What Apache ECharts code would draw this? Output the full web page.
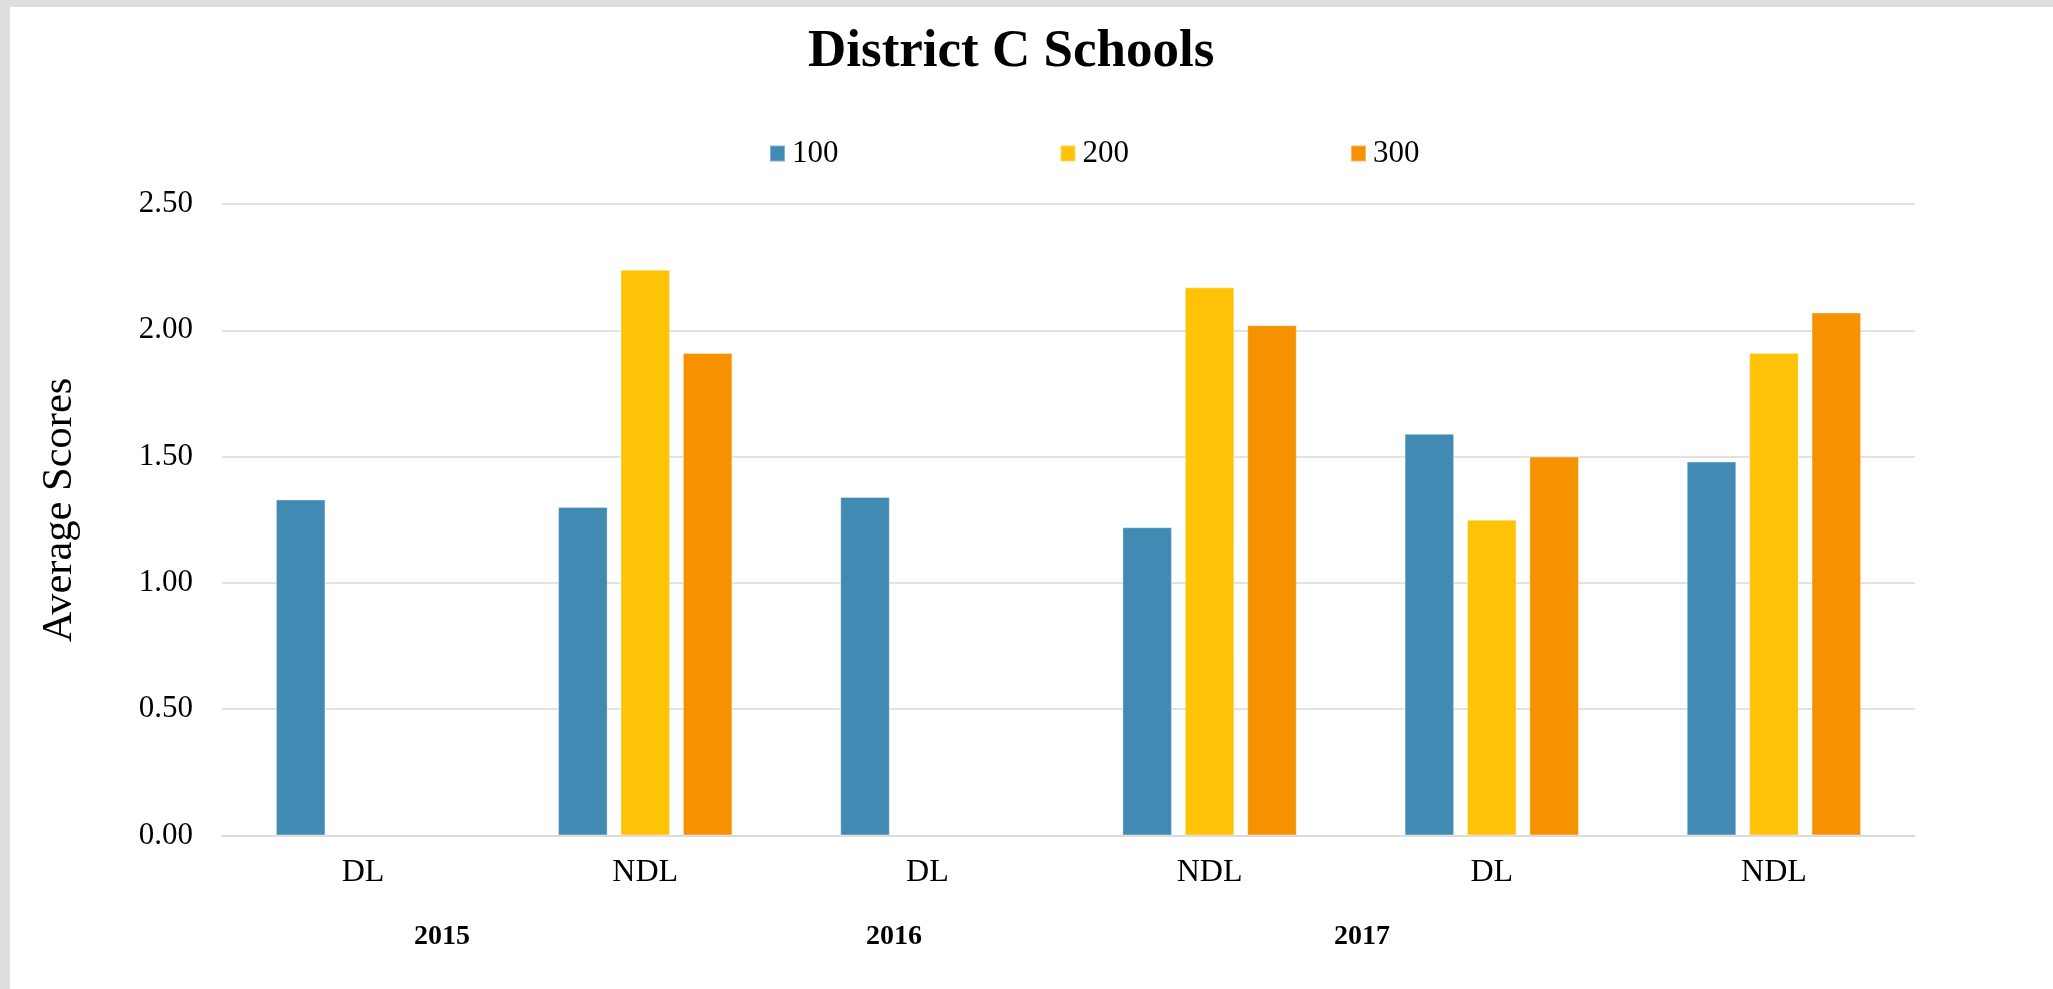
<!DOCTYPE html>
<html>
<head>
<meta charset="utf-8">
<script src="https://cdn.jsdelivr.net/npm/echarts@6/dist/echarts.min.js"></script>
<style>
  html, body { margin: 0; padding: 0; background: #ffffff; }
  #chart { width: 2053px; height: 989px; }
</style>
</head>
<body>
<div id="chart"></div>
<script>
// ---- data ----
const categories = ['DL', 'NDL', 'DL', 'NDL', 'DL', 'NDL'];
const years = ['2015', '2016', '2017'];
const seriesNames = ['100', '200', '300'];
const values100 = [1.33, 1.30, 1.34, 1.22, 1.59, 1.48];
const values200 = [null, 2.24, null, 2.17, 1.25, 1.91];
const values300 = [null, 1.91, null, 2.02, 1.50, 2.07];
const yTicks = { min: 0, max: 2.5, interval: 0.5 };
const yAxisTitle = 'Average Scores';

// ---- styling ----
const FONT = '"Liberation Serif", "Times New Roman", serif';
const colors = ['#418AB3', '#FEC306', '#F69200'];
const gridColor = '#d9d9d9';
const yearX = [442, 894, 1362];

const chart = echarts.init(document.getElementById('chart'), null, { renderer: 'canvas' });

const seriesData = [values100, values200, values300];

const option = {
  backgroundColor: '#ffffff',
  animation: false,
  title: {
    text: 'District C Schools',
    left: 808,
    top: 26,
    padding: 0,
    textStyle: { fontFamily: FONT, fontSize: 53, fontWeight: 'bold', color: '#000000' }
  },
  legend: {
    data: seriesNames,
    left: 769,
    top: 138,
    padding: 0,
    icon: 'rect',
    itemWidth: 15,
    itemHeight: 16,
    itemGap: 221,
    textStyle: { fontFamily: FONT, fontSize: 31, color: '#000000', padding: [0, 0, 0, 2] }
  },
  grid: {
    left: 222,
    top: 204,
    width: 1693,
    bottom: 153.6,
    containLabel: false
  },
  xAxis: {
    type: 'category',
    data: categories,
    axisTick: { show: false },
    axisLine: { show: true, lineStyle: { color: gridColor, width: 1.5 } },
    axisLabel: { fontFamily: FONT, fontSize: 32, color: '#000000', margin: 21 }
  },
  yAxis: {
    type: 'value',
    min: yTicks.min,
    max: yTicks.max,
    interval: yTicks.interval,
    axisLine: { show: false },
    axisTick: { show: false },
    splitLine: { lineStyle: { color: gridColor, width: 1.5 } },
    axisLabel: {
      fontFamily: FONT, fontSize: 31, color: '#000000', margin: 29,
      formatter: v => v.toFixed(2)
    }
  },
  series: seriesNames.map((name, i) => ({
    name: name,
    type: 'bar',
    data: seriesData[i],
    barWidth: '17.55%',
    barGap: '26%',
    itemStyle: { color: colors[i], borderColor: 'rgba(255,255,255,0.35)', borderWidth: 1 }
  })),
  graphic: [
    { type: 'rect', z: -10, silent: true, shape: { x: 0, y: 0, width: 2053, height: 7 }, style: { fill: '#dedede' } },
    { type: 'rect', z: -10, silent: true, shape: { x: 0, y: 0, width: 10, height: 989 }, style: { fill: '#dedede' } },
    {
      type: 'text', x: 60, y: 510, rotation: Math.PI / 2, silent: true,
      style: {
        text: yAxisTitle, fontFamily: FONT, fontSize: 42.5, fill: '#000000',
        align: 'center', verticalAlign: 'middle'
      }
    }
  ].concat(years.map((y, i) => ({
    type: 'text',
    x: yearX[i],
    y: 937,
    silent: true,
    style: {
      text: y,
      fontFamily: FONT,
      fontSize: 28,
      fontWeight: 'bold',
      fill: '#000000',
      align: 'center',
      verticalAlign: 'middle'
    }
  })))
};

chart.setOption(option);
</script>
</body>
</html>
